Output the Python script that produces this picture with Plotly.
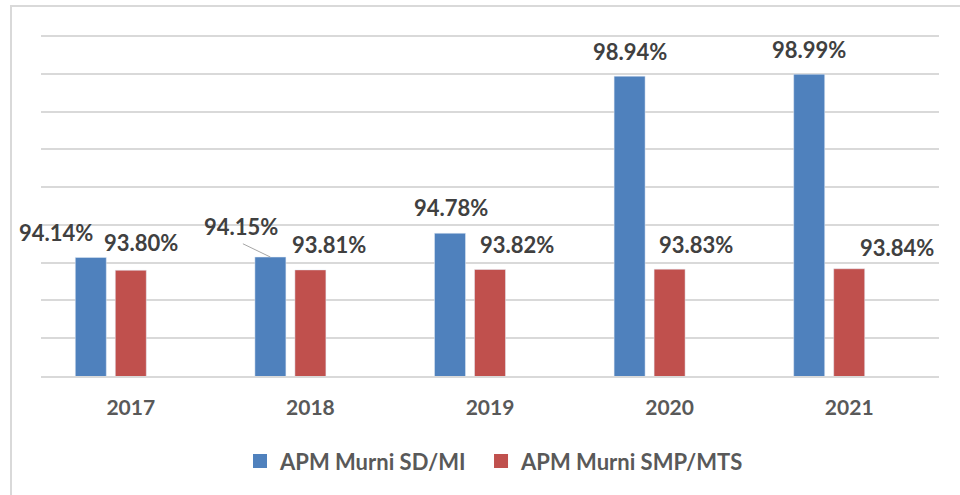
import plotly.graph_objects as go

years = ["2017", "2018", "2019", "2020", "2021"]
sd_mi = [94.14, 94.15, 94.78, 98.94, 98.99]
smp_mts = [93.80, 93.81, 93.82, 93.83, 93.84]
series_names = ["APM Murni SD/MI", "APM Murni SMP/MTS"]

# label placement offsets in pixels (xshift, yshift) relative to bar top centre
sd_label_shift = [(-35, 25), (-29, 31), (1, 26), (0, 25), (0, 25)]
smp_label_shift = [(10, 28), (19, 25), (27, 25), (26, 25), (48, 21)]
leader_index = 1  # SD/MI label with a leader line

FONT = "Lato"
BLUE = "#4F81BD"
RED = "#C0504D"
BAR_W = 0.1726
BLUE_OFF = -0.309
RED_OFF = -0.0863
FS = 22

fig = go.Figure()
fig.add_trace(go.Bar(x=years, y=sd_mi, name=series_names[0], marker_color=BLUE,
                     width=BAR_W, offset=BLUE_OFF, hoverinfo="x+y", showlegend=False))
fig.add_trace(go.Bar(x=years, y=smp_mts, name=series_names[1], marker_color=RED,
                     width=BAR_W, offset=RED_OFF, hoverinfo="x+y", showlegend=False))
# legend entries with larger square keys
for nm, col, lg in zip(series_names, [BLUE, RED], ["legend", "legend2"]):
    fig.add_trace(go.Scatter(x=[None], y=[None], mode="markers", name=nm,
                             marker=dict(symbol="square", size=14, color=col),
                             showlegend=True, legend=lg))

annotations = []
lab_font = dict(family=FONT, size=FS, color="#404040", weight="bold")
for i, v in enumerate(sd_mi):
    cx = i + BLUE_OFF + BAR_W / 2
    sh = sd_label_shift[i]
    annotations.append(dict(x=cx, y=v, xref="x", yref="y", text=f"{v:.2f}%",
                            showarrow=False, xshift=sh[0], yshift=sh[1], font=lab_font))
    if i == leader_index:
        annotations.append(dict(x=cx, y=v, xref="x", yref="y", text="",
                                showarrow=True, arrowhead=0, arrowwidth=1, arrowcolor="#a6a6a6",
                                ax=-29, ay=-14, standoff=0))
for i, v in enumerate(smp_mts):
    cx = i + RED_OFF + BAR_W / 2
    sh = smp_label_shift[i]
    annotations.append(dict(x=cx, y=v, xref="x", yref="y", text=f"{v:.2f}%",
                            showarrow=False, xshift=sh[0], yshift=sh[1], font=lab_font))

leg_font = dict(family=FONT, size=FS, color="#595959", weight="bold")
fig.update_layout(
    width=960, height=495,
    margin=dict(l=41, r=21, t=35, b=119, autoexpand=False),
    paper_bgcolor="white", plot_bgcolor="white",
    barmode="overlay",
    font=dict(family=FONT, size=FS, color="#595959", weight="bold"),
    annotations=annotations,
    showlegend=True,
    legend=dict(orientation="h", x=0.2216, xanchor="left", y=-0.25, yanchor="middle",
                font=leg_font, itemwidth=30, bgcolor="rgba(0,0,0,0)"),
    legend2=dict(orientation="h", x=0.49, xanchor="left", y=-0.25, yanchor="middle",
                 font=leg_font, itemwidth=30, bgcolor="rgba(0,0,0,0)"),
    shapes=[dict(type="rect", xref="paper", yref="paper",
                 x0=-0.0334, x1=1.1, y0=-0.5, y1=1.0853,
                 line=dict(color="#d9d9d9", width=2), fillcolor="rgba(0,0,0,0)", layer="below")],
)
fig.update_xaxes(type="category", range=[-0.5, 4.5], showgrid=False, zeroline=False,
                 showline=True, linecolor="#d9d9d9", linewidth=2, ticks="",
                 tickfont=dict(family=FONT, size=21, color="#595959", weight="bold"),
                 ticklabelstandoff=12)
fig.update_yaxes(range=[91, 100.03], dtick=1, showgrid=True, gridcolor="#d9d9d9", gridwidth=1.5,
                 showticklabels=False, zeroline=False, showline=False)

fig.write_html("out.html", post_script="document.body.style.margin='0';",
               config={"displayModeBar": False})
